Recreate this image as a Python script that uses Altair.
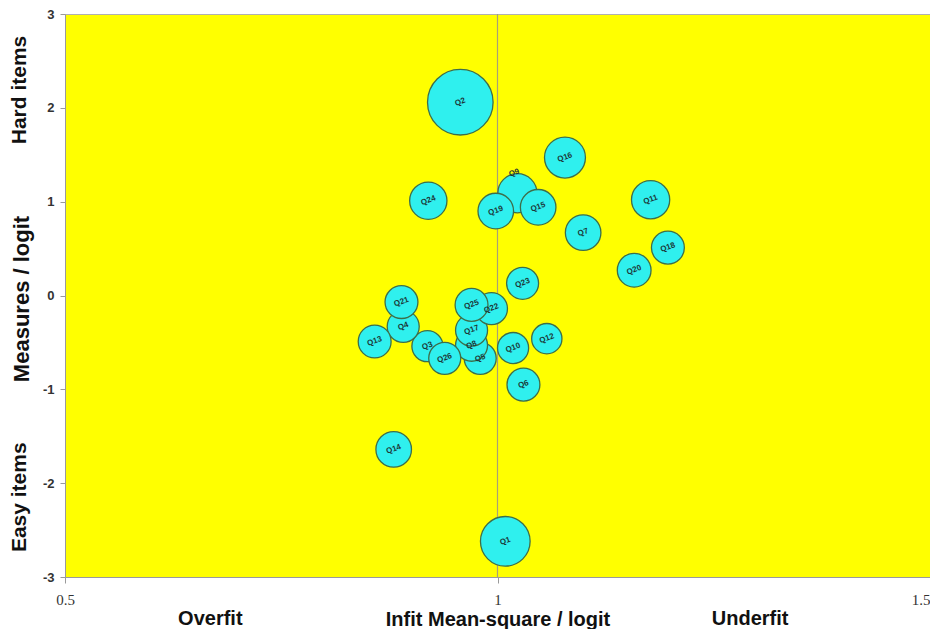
import altair as alt
import pandas as pd

items = ["Q1", "Q2", "Q3", "Q4", "Q5", "Q6", "Q7", "Q8", "Q9", "Q10", "Q11", "Q12", "Q13",
         "Q14", "Q15", "Q16", "Q17", "Q18", "Q19", "Q20", "Q21", "Q22", "Q23", "Q24", "Q25", "Q26"]
infit = [1.009, 0.957, 0.919, 0.891, 0.980, 1.030, 1.099, 0.970, 1.023, 1.018, 1.177, 1.057, 0.858,
         0.880, 1.047, 1.078, 0.970, 1.197, 0.998, 1.158, 0.889, 0.993, 1.029, 0.920, 0.970, 0.939]
measure = [-2.62, 2.06, -0.54, -0.33, -0.67, -0.95, 0.67, -0.53, 1.09, -0.56, 1.02, -0.46, -0.49,
           -1.64, 0.94, 1.47, -0.37, 0.51, 0.90, 0.27, -0.07, -0.14, 0.13, 1.01, -0.10, -0.67]
# bubble value (model standard error), bubble area proportional to it
se = [0.39, 0.68, 0.153, 0.162, 0.162, 0.171, 0.20, 0.162, 0.242, 0.153, 0.231, 0.145, 0.171,
      0.20, 0.20, 0.265, 0.162, 0.171, 0.20, 0.18, 0.171, 0.162, 0.162, 0.22, 0.171, 0.162]

df = pd.DataFrame({"item": items, "infit": infit, "measure": measure, "se": se,
                   "idx": list(range(len(items)))})

side_y = pd.DataFrame({"label": ["Hard items", "Easy items"], "pos": [2.19, -2.15]})
side_x = pd.DataFrame({"label": ["Overfit", "Underfit"], "pos": [0.668, 1.292]})

W, H = 865, 563
xs = alt.Scale(domain=[0.5, 1.5], nice=False, zero=False)
ys = alt.Scale(domain=[-3, 3], nice=False, zero=False)

title_font = "Liberation Sans Narrow, Arial Narrow, Liberation Sans, Arial, sans-serif"
sans = "Liberation Sans, Arial, sans-serif"

base = alt.Chart(df)

bubbles = base.mark_circle(opacity=1, stroke="#3d6e4a", strokeWidth=1.3, color="#2ff0ee").encode(
    x=alt.X("infit:Q", scale=xs,
            axis=alt.Axis(values=[0.5, 1, 1.5], labelExpr="'' + datum.value", grid=False, tickSize=6,
                          labelFont="Liberation Serif, Times New Roman, serif", labelFontSize=15,
                          labelColor="#333333", labelPadding=9, domainColor="#9a9a9a",
                          tickColor="#9a9a9a", labelFlush=False,
                          labelAlign=alt.condition("datum.value >= 1.5", alt.value("right"),
                                                   alt.value("center")),
                          title="Infit Mean-square / logit", titleFont=title_font,
                          titleFontSize=20, titleFontWeight="bold", titleColor="#111111",
                          titleBaseline="alphabetic", titleY=48)),
    y=alt.Y("measure:Q", scale=ys,
            axis=alt.Axis(values=[-3, -2, -1, 0, 1, 2, 3], labelExpr="'' + datum.value",
                          grid=False, tickSize=5, labelFlush=False,
                          labelFont=sans, labelFontSize=13,
                          labelFontWeight="bold", labelColor="#333333", labelPadding=6,
                          domainColor="#9a9a9a", tickColor="#9a9a9a",
                          title="Measures / logit", titleFont=sans,
                          titleFontSize=22, titleFontWeight="bold", titleColor="#111111",
                          titleAngle=270, titleBaseline="middle", titleAlign="center",
                          titleX=-44, titleY=H / 2 + 3)),
    size=alt.Size("se:Q", scale=alt.Scale(domain=[0, 0.68], range=[0, 4300], zero=True), legend=None),
    order=alt.Order("idx:Q"),
)

rule = alt.Chart(pd.DataFrame({"v": [1.0]})).mark_rule(color="#a8a078", strokeWidth=1.2).encode(
    x=alt.X("v:Q", scale=xs), y=alt.value(0), y2=alt.value(H))

labels = base.transform_filter(alt.datum.item != "Q9").mark_text(
    fontSize=8, fontWeight="bold", angle=340, color="#1c3636", font=sans
).encode(x=alt.X("infit:Q", scale=xs), y=alt.Y("measure:Q", scale=ys), text="item:N")

label_q9 = base.transform_filter(alt.datum.item == "Q9").mark_text(
    fontSize=8, fontWeight="bold", angle=340, color="#1c3636", font=sans, dy=-20, dx=4
).encode(x=alt.X("infit:Q", scale=xs), y=alt.Y("measure:Q", scale=ys), text="item:N")

ylabels = alt.Chart(side_y).mark_text(
    fontSize=21, fontWeight="bold", angle=270, color="#111111",
    font=sans, baseline="middle", align="center"
).encode(x=alt.value(-45), y=alt.Y("pos:Q", scale=ys), text="label:N")

xlabels = alt.Chart(side_x).mark_text(
    fontSize=20, fontWeight="bold", color="#111111", font=title_font,
    baseline="alphabetic", align="center"
).encode(x=alt.X("pos:Q", scale=xs), y=alt.value(H + 48), text="label:N")

chart = alt.layer(rule, bubbles, labels, label_q9, ylabels, xlabels).properties(
    width=W, height=H,
    autosize=alt.AutoSizeParams(type="none"),
    padding={"left": 57, "top": 6, "right": 0, "bottom": 52},
    background="white",
).configure_view(fill="#ffff00", stroke="#b0b0b0", strokeWidth=1)

chart.save("out.html", embed_options={"renderer": "svg", "actions": False})
